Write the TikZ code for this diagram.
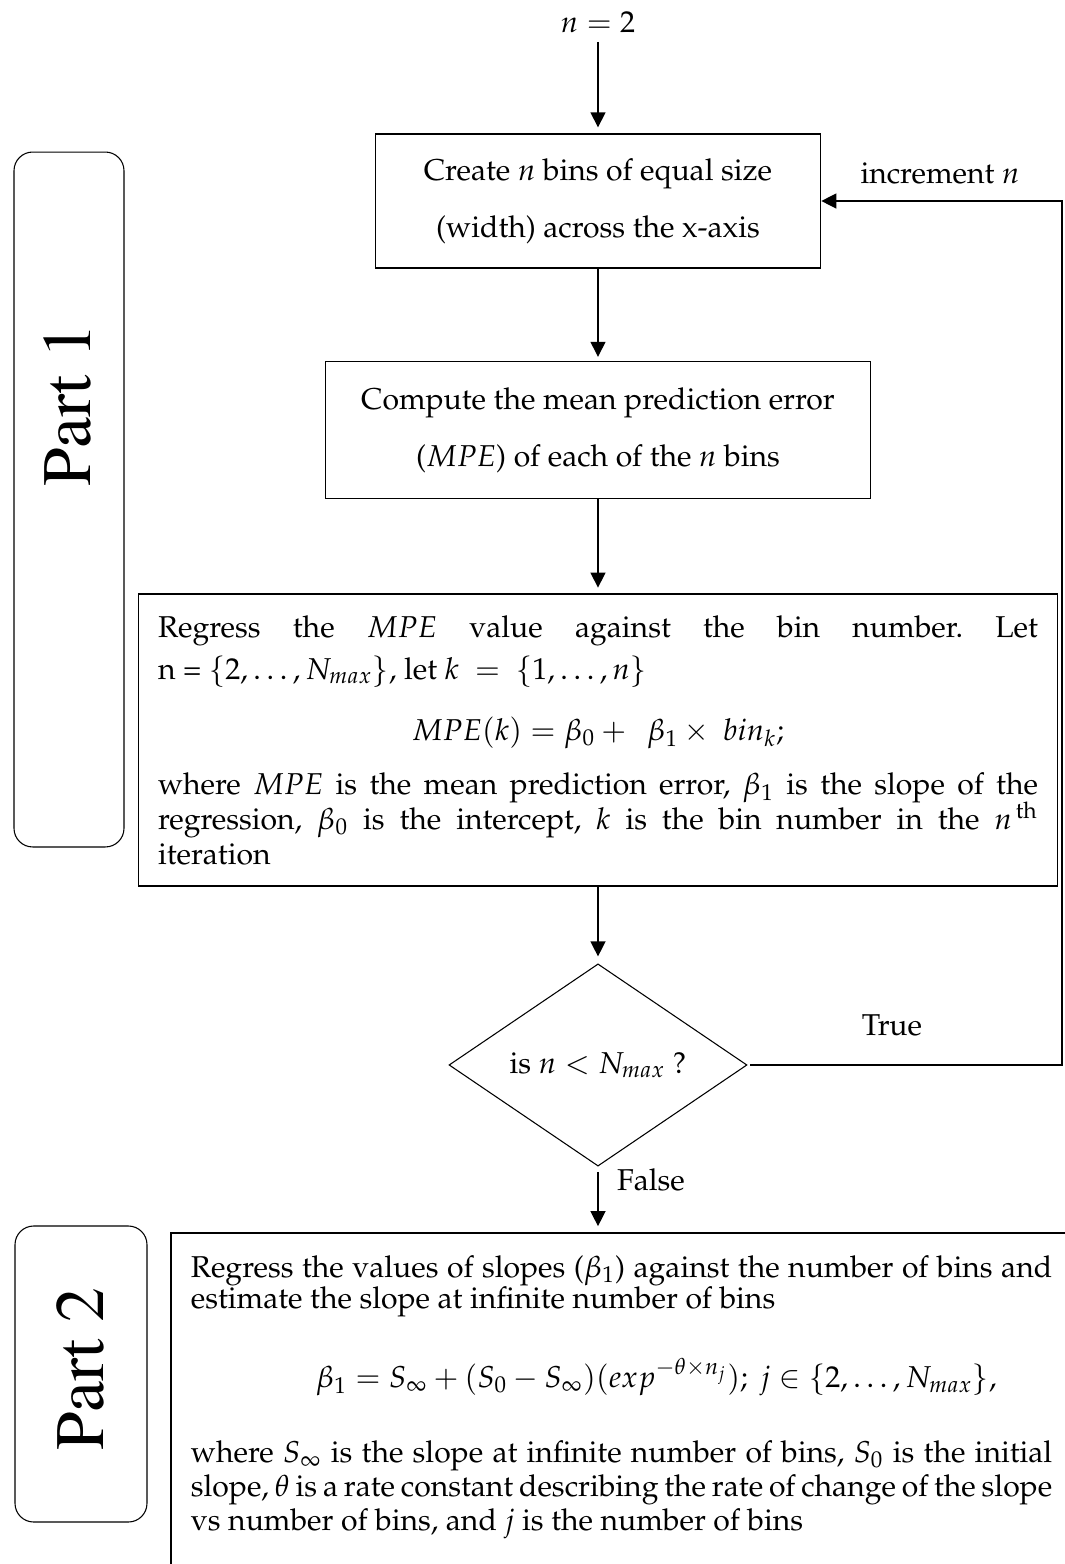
\documentclass[tikz,border=0pt]{standalone}
\usepackage[T1]{fontenc}
\usepackage{mathpazo}
\usetikzlibrary{arrows.meta, positioning, shapes.geometric}

\begin{document}
\begin{tikzpicture}[
  x=0.375pt, y=-0.375pt,
  block/.style={rectangle, draw, line width=0.6pt, align=center, font=\fontsize{11.3}{21.4}\selectfont},
  textbox/.style={rectangle, draw, line width=0.7pt, align=justify, font=\fontsize{11.3}{13.1}\selectfont, execute at begin node={\lineskiplimit=-20pt\frenchspacing}},
  decision/.style={diamond, draw, line width=0.4pt, inner sep=0pt, minimum width=111.75pt, minimum height=66pt, font=\fontsize{11.3}{13}\selectfont},
  partbox/.style={rectangle, draw, line width=0.4pt, rounded corners=7pt},
  parttext/.style={rotate=90, font=\fontfamily{ptm}\fontsize{26}{26}\selectfont},
  lbl/.style={font=\fontsize{11.3}{13}\selectfont},
  arrow/.style={-{Triangle[length=5.6pt, width=5.6pt]}, line width=0.5pt}
  ]
  \useasboundingbox (0,0) rectangle (1065,1564);
  \clip (0,0) rectangle (1065,1564);

  % ========== Part 1: loop over n ==========
  \node[lbl] (start) at (598,22) {$n = 2$};
  \node[block, minimum width=166.9pt, minimum height=50.25pt] (create) at (598,201) {Create $n$ bins of equal size\\ (width) across the x-axis};
  \node[block, below=34.5pt of create, minimum width=204.4pt, minimum height=51.4pt] (mpe) {Compute the mean prediction error\\ ($MPE$) of each of the $n$ bins};
  \node[textbox, below=35.25pt of mpe, text width=330pt, inner xsep=7.3pt, minimum height=109.5pt] (regress) {%
    {\parfillskip=0pt Regress the $MPE$ value against the bin number. Let\par}
    \vspace{2.6pt}
    n = $\{2, \ldots, N_{max}\}$, let $k\ =\ \{1, \ldots, n\}$\par
    \vspace{9.8pt}
    \centerline{$MPE(k) = \beta_0 +\ \ \beta_1 \times\ bin_k;$}
    \vspace{7.2pt}
    where $MPE$ is the mean prediction error, $\beta_1$ is the slope of the\linebreak
    regression, $\beta_0$ is the intercept, $k$ is the bin number in the $n^{\,\mathrm{th}}$\linebreak
    iteration};
  \node[decision, below=28.5pt of regress] (check) {is $n < N_{max}$ ?};
  \node[lbl] (inc) at (940,173) {increment $n$};
  \node[lbl] (truelbl) at (892,1025) {True};
  \node[lbl] (falselbl) at (651,1180) {False};
  \coordinate (loop) at (1062,1047);

  % ========== Part 2: slope at infinite bins ==========
  \node[textbox, font=\fontsize{11.3}{11.9}\selectfont, anchor=north west, text width=323pt, inner xsep=7.5pt, inner ysep=8.4pt] (final) at (170,1232) {%
    Regress the values of slopes ($\beta_1$) against the number of bins and\linebreak
    estimate the slope at infinite number of bins\par
    \vspace{17.6pt}
    \centerline{\hspace{26pt}$\beta_1 = S_\infty + (S_0 - S_\infty)(exp^{-\theta\times n_j});\ j \in \{2, \ldots, N_{max}\},$}
    \vspace{15.4pt}
    {\fontsize{11.3}{12.7}\selectfont
    where $S_\infty$ is the slope at infinite number of bins, $S_0$ is the initial\linebreak
    slope, $\theta$ is a rate constant describing the rate of change of the slope\linebreak
    vs number of bins, and $j$ is the number of bins\par}
    \rule{0pt}{24pt}};

  \node[partbox, minimum width=41.25pt, minimum height=260.6pt] (part1) at (69,499.5) {};
  \node[parttext] (part1lbl) at (67,405) {Part 1};
  \node[partbox, minimum width=49.5pt, minimum height=111pt] (part2) at (81,1374) {};
  \node[parttext] (part2lbl) at (80,1369) {Part 2};

  \draw[arrow, shorten >=2.2pt] (start) -- (create);
  \draw[arrow, shorten >=1.5pt] (create) -- (mpe);
  \draw[arrow, shorten >=2.2pt] (mpe) -- (mpe |- regress.north);
  \draw[arrow, shorten >=2.6pt] (regress.south -| check) -- (check);
  \draw[arrow, shorten <=2pt, shorten >=2.2pt] (check) -- (check |- final.north);
  \draw[arrow, shorten <=1pt] (check.east) -| (loop |- create.east) -- (create.east);
\end{tikzpicture}
\end{document}
